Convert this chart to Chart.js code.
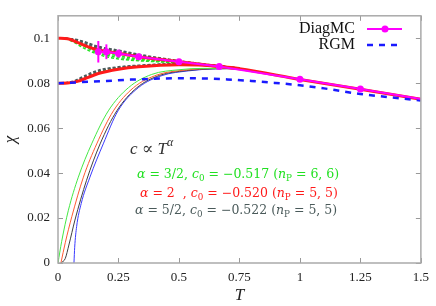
<!DOCTYPE html>
<html>
<head>
<meta charset="utf-8">
<script src="https://cdn.jsdelivr.net/npm/chart.js@4/dist/chart.umd.min.js"></script>
<style>
  body { margin: 0; background: #fff; }
  #wrap { width: 436px; height: 306px; }
</style>
</head>
<body>
<div id="wrap"><canvas id="chart"></canvas></div>
<script>
// axes
const xTicks = [0, 0.25, 0.5, 0.75, 1, 1.25, 1.5];
const xTickLabels = ["0", "0.25", "0.5", "0.75", "1", "1.25", "1.5"];
const yTicks = [0, 0.02, 0.04, 0.06, 0.08, 0.1];
const yTickLabels = ["0", "0.02", "0.04", "0.06", "0.08", "0.1"];

// DiagMC points + error bars
const dmcT = [1/6, 0.2, 0.25, 1/3, 0.5, 2/3, 1, 1.25, 1.5];
const dmcChi = [0.0940, 0.0940, 0.0932, 0.0918, 0.0896, 0.0874, 0.0818, 0.0774, 0.0730];
const dmcErr = [0.0048, 0.0033, 0.0018, 0.0008, 0.0004, 0.0003, 0.0003, 0.0003, 0];

// RGM
const rgmT = [0, 0.1, 0.2, 0.3, 0.4, 0.5, 0.6, 0.7, 0.8, 0.9, 1, 1.1, 1.25, 1.375, 1.5];
const rgmChi = [0.0800, 0.0805, 0.0810, 0.0816, 0.0820, 0.0822, 0.0821, 0.0817, 0.0810, 0.0801, 0.0791, 0.0777, 0.0752, 0.0737, 0.0723];

// alpha = 2 (red), upper and lower branch
const redUpT = [0, 0.04, 0.08, 0.125, 1/6, 0.25, 1/3, 0.5, 2/3, 0.75, 1, 1.25, 1.5];
const redUpChi = [0.1, 0.0998, 0.0982, 0.0962, 0.0948, 0.0933, 0.0918, 0.0896, 0.0874, 0.0864, 0.0817, 0.0773, 0.0729];
const redLoT = [0, 0.04, 0.08, 0.125, 1/6, 0.25, 1/3, 0.5, 0.6, 0.75];
const redLoChi = [0.08, 0.0801, 0.0808, 0.0826, 0.0843, 0.0862, 0.0873, 0.0882, 0.0880, 0.0866];

// alpha = 5/2 (grey), upper and lower
const grayUpT = [0.03, 0.07, 0.1, 1/6, 0.25, 1/3, 0.5, 0.6, 0.75];
const grayUp1 = [0.1, 0.0995, 0.0985, 0.0960, 0.0943, 0.0926, 0.0898, 0.0884, 0.0866];
const grayUp2 = [0.1, 0.0992, 0.0980, 0.0955, 0.0938, 0.0922, 0.0896, 0.0883, 0.0865];
const grayUp3 = [0.1, 0.0996, 0.0988, 0.0964, 0.0947, 0.0929, 0.0900, 0.0886, 0.0867];
const grayLoT = [0.03, 0.07, 0.1, 1/6, 0.25, 1/3, 0.5, 0.6, 0.75];
const grayLo1 = [0.0801, 0.0812, 0.0828, 0.0858, 0.0873, 0.0880, 0.0887, 0.0884, 0.0867];
const grayLo2 = [0.0801, 0.0809, 0.0823, 0.0853, 0.0870, 0.0878, 0.0886, 0.0883, 0.0867];

// alpha = 3/2 (green), upper and lower
const greenUpT = [0.03, 0.07, 0.1, 1/6, 0.25, 1/3, 0.4, 0.5, 0.6, 0.75];
const greenUp1 = [0.1, 0.0985, 0.0968, 0.0935, 0.0915, 0.0903, 0.0898, 0.0891, 0.0882, 0.0865];
const greenUp2 = [0.1, 0.0980, 0.0960, 0.0928, 0.0908, 0.0900, 0.0896, 0.0890, 0.0881, 0.0865];
const greenUp3 = [0.1, 0.0990, 0.0975, 0.0942, 0.0922, 0.0908, 0.0900, 0.0892, 0.0883, 0.0866];
const greenLoT = [0.03, 0.07, 0.1, 1/6, 0.25, 1/3, 0.5, 0.6, 0.75];
const greenLo1 = [0.08, 0.0807, 0.0818, 0.0850, 0.0867, 0.0876, 0.0884, 0.0882, 0.0866];
const greenLo2 = [0.08, 0.0805, 0.0815, 0.0846, 0.0864, 0.0875, 0.0883, 0.0881, 0.0866];

// thin curves from chi = 0
const thinGreenT = [0, 0.015, 0.043, 0.084, 0.139, 0.208, 0.291, 0.387, 0.5, 0.6, 0.75];
const thinGreen = [0, 0.0095, 0.0235, 0.0382, 0.053, 0.0677, 0.078, 0.0839, 0.0860, 0.0866, 0.0866];
const thinOrangeT = [0.012, 0.03, 0.057, 0.105, 0.16, 0.229, 0.312, 0.41, 0.52, 0.62, 0.75];
const thinOrange = [0, 0.009, 0.0206, 0.0382, 0.053, 0.0677, 0.078, 0.0837, 0.0858, 0.0865, 0.0866];
const thinGrayT = [0.012, 0.03, 0.045, 0.07, 0.118, 0.174, 0.243, 0.326, 0.42, 0.53, 0.64, 0.75];
const thinGray = [0, 0.002, 0.008, 0.0191, 0.0368, 0.053, 0.0677, 0.078, 0.0835, 0.0856, 0.0864, 0.0865];
const thinBlueT = [0.066, 0.069, 0.077, 0.096, 0.132, 0.187, 0.248, 0.332, 0.43, 0.54, 0.65, 0.75];
const thinBlue = [0, 0.007, 0.0162, 0.0265, 0.0382, 0.053, 0.0677, 0.078, 0.0834, 0.0855, 0.0864, 0.0865];

const SERIF = "'Liberation Serif', 'DejaVu Serif', serif";
const SERIF2 = "'DejaVu Serif', serif";
const C_GREEN = "#22e022";
const C_RED = "#ff1a1a";
const C_GRAY = "#4a5a5a";
const C_MAG = "#ff00ff";
const C_BLUE = "#1a1aff";

function pts(xs, ys) {
  return xs.map((x, i) => ({ x: x, y: ys[i] }));
}

function curve(xs, ys, color, width, dash) {
  return {
    data: pts(xs, ys),
    borderColor: color,
    backgroundColor: color,
    borderWidth: width,
    borderDash: dash || [],
    pointRadius: 0,
    showLine: true,
    cubicInterpolationMode: "monotone",
    fill: false
  };
}

const datasets = [
  Object.assign(curve(dmcT, dmcChi, C_MAG, 2), {
    label: "DiagMC",
    cubicInterpolationMode: "default",
    pointRadius: dmcT.map((t, i) => (i === dmcT.length - 1 ? 0 : 3.5)),
    pointBorderWidth: 0
  }),
  Object.assign(curve(rgmT, rgmChi, C_BLUE, 2.5, [6, 6]), { label: "RGM" }),
  curve(redUpT, redUpChi, C_RED, 3),
  curve(redLoT, redLoChi, C_RED, 3),
  curve(grayUpT, grayUp1, C_GRAY, 1.5, [3, 2]),
  curve(grayUpT, grayUp2, C_GRAY, 1.5, [3, 2]),
  curve(grayUpT, grayUp3, C_GRAY, 1.5, [3, 2]),
  curve(grayLoT, grayLo1, C_GRAY, 1.5, [3, 2]),
  curve(grayLoT, grayLo2, C_GRAY, 1.5, [3, 2]),
  curve(greenUpT, greenUp1, C_GREEN, 1.5, [3, 2]),
  curve(greenUpT, greenUp2, C_GREEN, 1.5, [3, 2]),
  curve(greenUpT, greenUp3, C_GREEN, 1.5, [3, 2]),
  curve(greenLoT, greenLo1, C_GREEN, 1.5, [3, 2]),
  curve(greenLoT, greenLo2, C_GREEN, 1.5, [3, 2]),
  curve(thinGreenT, thinGreen, "#44e844", 1),
  curve(thinOrangeT, thinOrange, "#ff5a30", 1),
  curve(thinGrayT, thinGray, "#404040", 1),
  curve(thinBlueT, thinBlue, "#3a3aff", 1)
];

// error bars, inner tick marks, frame
const framePlugin = {
  id: "frame",
  beforeDatasetsDraw(chart) {
    const { ctx, chartArea: a, scales } = chart;
    ctx.save();
    ctx.strokeStyle = "#999";
    ctx.lineWidth = 1;
    xTicks.forEach((v) => {
      const px = Math.round(scales.x.getPixelForValue(v)) + 0.5;
      ctx.beginPath();
      ctx.moveTo(px, a.bottom); ctx.lineTo(px, a.bottom - 5);
      ctx.moveTo(px, a.top); ctx.lineTo(px, a.top + 5);
      ctx.stroke();
    });
    yTicks.forEach((v) => {
      const py = Math.round(scales.y.getPixelForValue(v)) + 0.5;
      ctx.beginPath();
      ctx.moveTo(a.left, py); ctx.lineTo(a.left + 5, py);
      ctx.moveTo(a.right, py); ctx.lineTo(a.right - 5, py);
      ctx.stroke();
    });
    ctx.restore();
  },
  afterDatasetsDraw(chart) {
    const { ctx, chartArea: a, scales } = chart;
    ctx.save();
    ctx.strokeStyle = C_MAG;
    ctx.lineWidth = 2;
    dmcT.forEach((t, i) => {
      if (!dmcErr[i]) return;
      const px = scales.x.getPixelForValue(t);
      ctx.beginPath();
      ctx.moveTo(px, scales.y.getPixelForValue(dmcChi[i] - dmcErr[i]));
      ctx.lineTo(px, scales.y.getPixelForValue(dmcChi[i] + dmcErr[i]));
      ctx.stroke();
    });
    ctx.strokeStyle = "#aaa";
    ctx.lineWidth = 1.5;
    ctx.strokeRect(a.left, a.top, a.right - a.left, a.bottom - a.top);
    ctx.restore();
  },
  afterDraw(chart) {
    const { ctx } = chart;
    ctx.save();
    // legend
    ctx.font = "16px " + SERIF;
    ctx.fillStyle = "#111";
    ctx.textAlign = "right";
    ctx.textBaseline = "middle";
    ctx.fillText("DiagMC", 355, 29);
    ctx.fillText("RGM", 355, 45);
    ctx.strokeStyle = C_MAG;
    ctx.lineWidth = 2;
    ctx.beginPath(); ctx.moveTo(367, 29); ctx.lineTo(402, 29); ctx.stroke();
    ctx.fillStyle = C_MAG;
    ctx.beginPath(); ctx.arc(385, 29, 3.5, 0, Math.PI * 2); ctx.fill();
    ctx.strokeStyle = C_BLUE;
    ctx.lineWidth = 2.5;
    ctx.setLineDash([6, 6]);
    ctx.beginPath(); ctx.moveTo(367, 45); ctx.lineTo(403, 45); ctx.stroke();
    ctx.setLineDash([]);

    // annotation
    ctx.textAlign = "left";
    ctx.textBaseline = "alphabetic";
    drawRich(ctx, 130, 154, [["c", "i"], [" \u221D ", "r"], ["T", "i"], ["\u03B1", "sup"]], "#333", 17, SERIF);
    drawRich(ctx, 137, 178, [["\u03B1", "i"], [" = 3/2, ", "r"], ["c", "i"], ["0", "sub"],
      [" = \u22120.517 (", "r"], ["n", "i"], ["P", "sub"], [" = 6, 6)", "r"]], C_GREEN, 12.5, SERIF2);
    drawRich(ctx, 140, 197, [["\u03B1", "i"], [" = 2  , ", "r"], ["c", "i"], ["0", "sub"],
      [" = \u22120.520 (", "r"], ["n", "i"], ["P", "sub"], [" = 5, 5)", "r"]], C_RED, 12.5, SERIF2);
    drawRich(ctx, 135, 214, [["\u03B1", "i"], [" = 5/2, ", "r"], ["c", "i"], ["0", "sub"],
      [" = \u22120.522 (", "r"], ["n", "i"], ["P", "sub"], [" = 5, 5)", "r"]], C_GRAY, 12.5, SERIF2);
    ctx.restore();
  }
};

function drawRich(ctx, x, y, segs, color, size, family) {
  ctx.fillStyle = color;
  segs.forEach(([t, s]) => {
    let fs = size, dy = 0, st = "";
    if (s === "i") st = "italic ";
    if (s === "sub") { fs = size * 0.7; dy = size * 0.25; }
    if (s === "sup") { fs = size * 0.7; dy = -size * 0.45; st = "italic "; }
    ctx.font = st + fs + "px " + family;
    ctx.fillText(t, x, y + dy);
    x += ctx.measureText(t).width;
  });
}

new Chart(document.getElementById("chart"), {
  type: "scatter",
  data: { datasets: datasets },
  options: {
    responsive: true,
    maintainAspectRatio: false,
    animation: false,
    layout: { padding: { top: 14, right: 14, left: 0, bottom: 0 } },
    plugins: { legend: { display: false }, tooltip: { enabled: false } },
    scales: {
      x: {
        type: "linear",
        min: 0,
        max: 1.5,
        afterBuildTicks: (s) => { s.ticks = xTicks.map((v) => ({ value: v })); },
        afterFit: (s) => { s.height = 43; },
        grid: { display: false, drawTicks: false },
        border: { display: false },
        ticks: {
          padding: 7,
          color: "#222",
          font: { family: SERIF, size: 13 },
          maxRotation: 0,
          callback: (v) => xTickLabels[xTicks.indexOf(v)]
        },
        title: { display: true, text: "T", color: "#222", padding: { top: 0, bottom: 0 },
          font: { family: SERIF, size: 17, style: "italic" } }
      },
      y: {
        type: "linear",
        min: 0,
        max: 0.11,
        afterBuildTicks: (s) => { s.ticks = yTicks.map((v) => ({ value: v })); },
        afterFit: (s) => { s.width = 58; },
        grid: { display: false, drawTicks: false },
        border: { display: false },
        ticks: {
          padding: 8,
          color: "#222",
          font: { family: SERIF, size: 13 },
          callback: (v) => yTickLabels[yTicks.indexOf(v)]
        },
        title: { display: true, text: "\u03C7", color: "#222", padding: 0,
          font: { family: SERIF, size: 17, style: "italic" } }
      }
    }
  },
  plugins: [framePlugin]
});
</script>
</body>
</html>
